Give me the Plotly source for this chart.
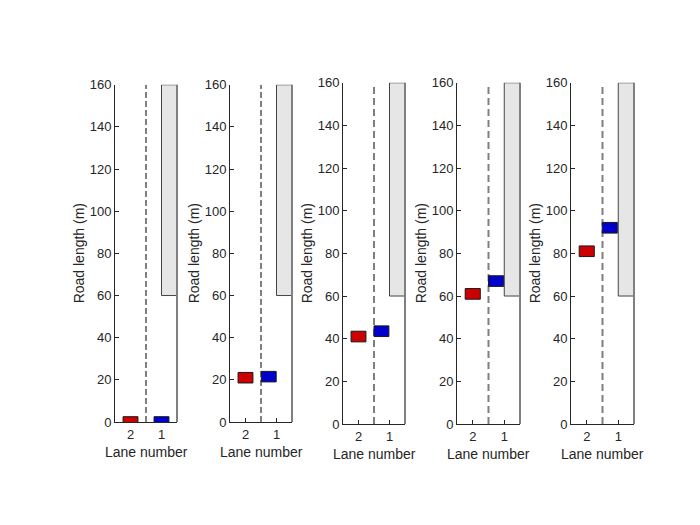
import plotly.graph_objects as go

# lane positions (x) and distance along road (y) for each snapshot
red_x = [2, 2, 2, 2, 2]
red_y = [0, 21, 41, 61, 81]
blue_x = [1, 1.25, 1.26, 1.26, 1.27]
blue_y = [0, 21.5, 43.5, 67, 92]

lane_ticks = [2, 1]
lane_labels = ["2", "1"]
y_ticks = [0, 20, 40, 60, 80, 100, 120, 140, 160]
road_len = 160
block_start = 60   # grey region in lane 1
divider_x = 1.5

OFF = 8  # page body margin
W, H = 700 - 2 * OFF, 525 - 2 * OFF
# vertical correction seen in the screenshot (rendered = A + S * page y)
A, S = 6.5, 0.97
# panel pixel boxes (left, right, top, bottom) as seen on the page
boxes = [(115, 177, 84, 421), (230, 292, 84, 421),
         (343, 405, 82, 423), (457, 520, 82, 423), (571, 634, 82, 423)]

car_hw, car_hh = 0.24, 2.5
text_col = "#262626"
font = "Liberation Sans, Arial, sans-serif"


def px(v):
    return (v - OFF) / W


def py(v):
    return 1 - ((v - A) / S - OFF) / H


fig = go.Figure()
shapes = []
annotations = []
layout = {}

for i, (l, r, t, b) in enumerate(boxes):
    n = "" if i == 0 else str(i + 1)
    xa, ya = "x" + n, "y" + n
    layout["xaxis" + n] = dict(
        domain=[px(l), px(r)], anchor=ya, range=[2.5, 0.5],
        tickvals=lane_ticks, ticktext=lane_labels, ticks="inside", ticklen=4,
        tickcolor=text_col, showline=True, linecolor=text_col, linewidth=1,
        showgrid=False, zeroline=False, fixedrange=True,
        tickfont=dict(size=13, color=text_col, family=font))
    layout["yaxis" + n] = dict(
        domain=[py(b), py(t)], anchor=xa, range=[0, road_len],
        tickvals=y_ticks, ticks="inside", ticklen=4, tickcolor=text_col,
        showline=True, linecolor=text_col, linewidth=1,
        showgrid=False, zeroline=False, fixedrange=True,
        tickfont=dict(size=13, color=text_col, family=font))

    # blocked part of lane 1
    shapes.append(dict(type="rect", xref=xa, yref=ya, x0=1, x1=0.5,
                       y0=block_start, y1=road_len, fillcolor="#e6e6e6",
                       line=dict(color="#444444", width=1), layer="below"))
    # road edge
    shapes.append(dict(type="line", xref=xa + " domain", yref=ya + " domain",
                       x0=1, x1=1, y0=0, y1=1,
                       line=dict(color="#808080", width=2)))

    # lane divider
    if i < 2:
        dl = dict(color="black", width=1, dash="6px,3px")
    else:
        dl = dict(color="#7f7f7f", width=2, dash="7px,4px")
    fig.add_trace(go.Scatter(x=[divider_x, divider_x], y=[0, road_len],
                             mode="lines", line=dl, xaxis=xa, yaxis=ya,
                             showlegend=False, hoverinfo="skip"))

    # vehicles
    for cx, cy, col in [(red_x[i], red_y[i], "#cc0000"),
                        (blue_x[i], blue_y[i], "#0000cc")]:
        shapes.append(dict(type="rect", xref=xa, yref=ya,
                           x0=cx - car_hw, x1=cx + car_hw,
                           y0=cy - car_hh, y1=cy + car_hh, fillcolor=col,
                           line=dict(color="#1a1a1a", width=1)))

    # axis titles
    annotations.append(dict(text="Lane number", xref="paper", yref="paper",
                            x=px((l + r) / 2), y=py(b + 30),
                            showarrow=False, xanchor="center", yanchor="middle",
                            font=dict(size=14, color=text_col, family=font)))
    annotations.append(dict(text="Road length (m)", xref="paper", yref="paper",
                            x=px(l - 36), y=py((t + b) / 2), textangle=-90,
                            showarrow=False, xanchor="center", yanchor="middle",
                            font=dict(size=14, color=text_col, family=font)))

fig.update_layout(**layout)
fig.update_layout(width=W, height=H, margin=dict(l=0, r=0, t=0, b=0),
                  paper_bgcolor="white", plot_bgcolor="white",
                  shapes=shapes, annotations=annotations, showlegend=False)

fig.write_html("out.html")
